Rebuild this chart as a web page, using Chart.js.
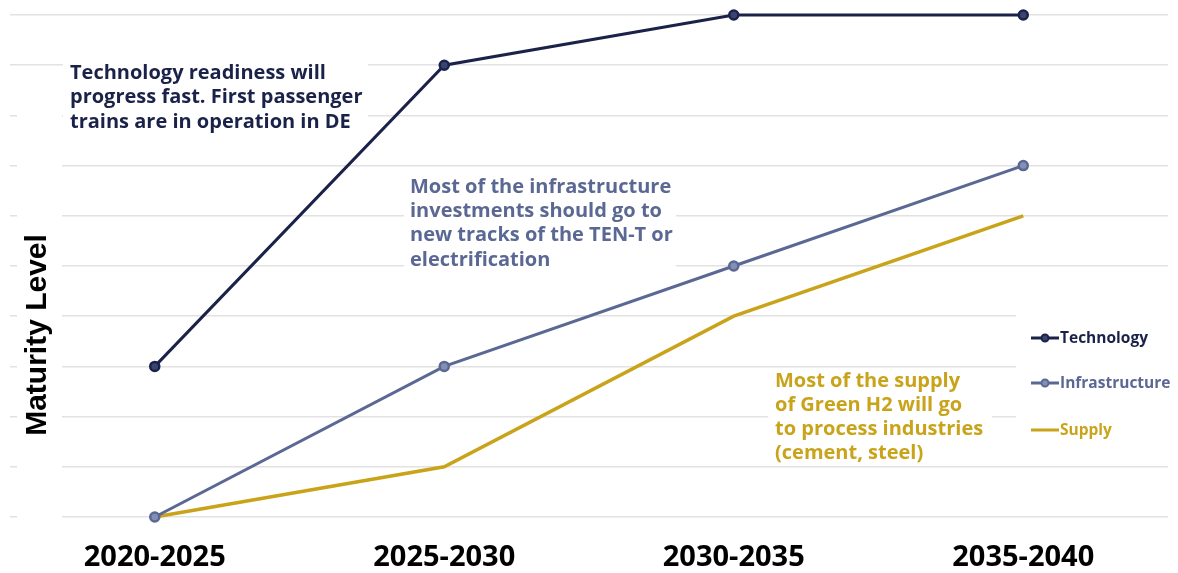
<!DOCTYPE html>
<html>
<head>
<meta charset="utf-8">
<script src="https://cdn.jsdelivr.net/npm/chart.js@4/dist/chart.umd.min.js"></script>
<style>
  html, body { margin: 0; padding: 0; background: #ffffff; }
  #wrap { width: 1178px; height: 573px; position: relative; }
</style>
</head>
<body>
<div id="wrap"><canvas id="c" width="1178" height="573"></canvas></div>
<script>
// Periods on the x axis
const categories = ['2020-2025', '2025-2030', '2030-2035', '2035-2040'];

// Maturity level per period (0 = lowest, 10 = highest)
const technology = [3, 9, 10, 10];
const infrastructure = [0, 3, 5, 7];
const supply = [0, 1, 4, 6];

// Value range of the maturity axis
const levelMin = 0;
const levelMax = 10;
const levelStep = 1;

const seriesNames = ['Technology', 'Infrastructure', 'Supply'];

const techNote = ['Technology readiness will', 'progress fast. First passenger', 'trains are in operation in DE'];
const infraNote = ['Most of the infrastructure', 'investments should go to', 'new tracks of the TEN-T or', 'electrification'];
const supplyNote = ['Most of the supply', 'of Green H2 will go', 'to process industries', '(cement, steel)'];

const C_TECH = '#1b2249';
const C_INFRA = '#5a6893';
const C_SUPPLY = '#c9a31a';

const FONT = '"Open Sans", "DejaVu Sans", sans-serif';

// White panels behind notes, axis title and legend, plus their text
const overlayPlugin = {
  id: 'overlay',
  beforeDatasetsDraw(chart) {
    const ctx = chart.ctx;
    ctx.save();
    ctx.fillStyle = '#ffffff';
    ctx.fillRect(17, 100, 45, 430);      // axis title panel
    ctx.fillRect(63, 56, 305, 72);       // technology note panel
    ctx.fillRect(404, 174, 272, 96);     // infrastructure note panel
    ctx.fillRect(768, 368, 224, 96);     // supply note panel
    ctx.fillRect(1016, 312, 162, 140);   // legend panel

    // axis title
    ctx.translate(38, 335);
    ctx.rotate(-Math.PI / 2);
    ctx.fillStyle = '#000000';
    ctx.font = 'bold 30px "Liberation Sans", Arial, sans-serif';
    ctx.textAlign = 'center';
    ctx.textBaseline = 'middle';
    ctx.fillText('Maturity Level', 0, 0);
    ctx.restore();

    const drawNote = (lines, x, y0, gap, color) => {
      ctx.save();
      ctx.fillStyle = color;
      ctx.font = 'bold 20px ' + FONT;
      ctx.textAlign = 'left';
      ctx.textBaseline = 'middle';
      lines.forEach((t, i) => ctx.fillText(t, x, y0 + i * gap));
      ctx.restore();
    };
    drawNote(techNote, 70, 73, 24.5, C_TECH);
    drawNote(infraNote, 410, 187, 24.3, C_INFRA);
    drawNote(supplyNote, 775, 381, 24, C_SUPPLY);
  },
  afterDatasetsDraw(chart) {
    const ctx = chart.ctx;
    const colors = [C_TECH, C_INFRA, C_SUPPLY];
    const markers = [true, true, false];
    const ys = [338, 383, 430];
    ctx.save();
    ctx.font = 'bold 15.5px ' + FONT;
    ctx.textBaseline = 'middle';
    ctx.textAlign = 'left';
    seriesNames.forEach((name, i) => {
      const y = ys[i];
      ctx.strokeStyle = colors[i];
      ctx.lineWidth = 3;
      ctx.beginPath();
      ctx.moveTo(1031, y);
      ctx.lineTo(1059, y);
      ctx.stroke();
      if (markers[i]) {
        ctx.beginPath();
        ctx.arc(1045, y, 3.5, 0, Math.PI * 2);
        ctx.fillStyle = i === 0 ? '#3a4470' : '#8390b5';
        ctx.fill();
        ctx.lineWidth = 2;
        ctx.stroke();
      }
      ctx.fillStyle = colors[i];
      ctx.fillText(name, 1060, y + 1);
    });
    ctx.restore();
  }
};

new Chart(document.getElementById('c'), {
  type: 'line',
  data: {
    labels: categories,
    datasets: [
      {
        label: seriesNames[0],
        data: technology,
        borderColor: C_TECH,
        backgroundColor: '#3a4470',
        borderWidth: 3,
        pointRadius: 4.5,
        pointBorderWidth: 2.5,
        pointBorderColor: C_TECH,
        tension: 0,
        clip: false
      },
      {
        label: seriesNames[1],
        data: infrastructure,
        borderColor: C_INFRA,
        backgroundColor: '#8390b5',
        borderWidth: 3,
        pointRadius: 4.5,
        pointBorderWidth: 2.5,
        pointBorderColor: C_INFRA,
        tension: 0,
        clip: false
      },
      {
        label: seriesNames[2],
        data: supply,
        borderColor: C_SUPPLY,
        backgroundColor: C_SUPPLY,
        borderWidth: 3.5,
        pointRadius: 0,
        tension: 0,
        clip: false
      }
    ]
  },
  options: {
    responsive: false,
    animation: false,
    layout: { padding: { left: 10, right: 10, top: 15, bottom: 0 } },
    plugins: {
      legend: { display: false },
      tooltip: { enabled: false },
      title: { display: false }
    },
    scales: {
      x: {
        offset: true,
        grid: { display: false, drawTicks: false },
        border: { display: false },
        ticks: {
          color: '#000000',
          font: { family: FONT, size: 29, weight: 'bold' },
          padding: 23,
          maxRotation: 0
        },
        afterFit(scale) { scale.height = 56; }
      },
      y: {
        min: levelMin,
        max: levelMax,
        ticks: { display: false, stepSize: levelStep },
        grid: { color: '#e2e2e2', lineWidth: 1.5, drawTicks: false },
        border: { display: false },
        afterFit(scale) { scale.width = 0; }
      }
    }
  },
  plugins: [overlayPlugin]
});
</script>
</body>
</html>
